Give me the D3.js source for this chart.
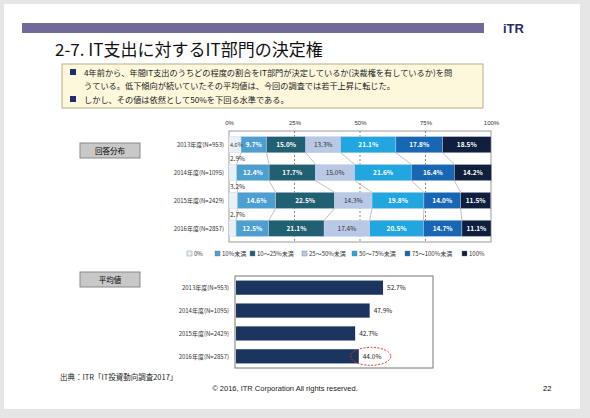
<!DOCTYPE html>
<html><head><meta charset="utf-8">
<script src="https://cdn.jsdelivr.net/npm/d3@7"></script>
<style>body{margin:0;background:#fff}svg{display:block;font-family:"Noto Sans CJK JP",Arial,sans-serif}</style>
</head><body><svg id="c" width="590" height="418"></svg>
<script>
const years = ["2013年度(N=953)", "2014年度(N=1095)", "2015年度(N=2429)", "2016年度(N=2857)"];
const bands = ["0%", "10%未満", "10～25%未満", "25～50%未満", "50～75%未満", "75～100%未満", "100%"];
const shares = [
  [4.6, 9.7, 15.0, 13.3, 21.1, 17.8, 18.5],
  [2.9, 12.4, 17.7, 15.0, 21.6, 16.4, 14.2],
  [3.2, 14.6, 22.5, 14.3, 19.8, 14.0, 11.5],
  [2.7, 12.5, 21.1, 17.4, 20.5, 14.7, 11.1]
];
const averages = [52.7, 47.9, 42.7, 44.0];
const colors = ["#e9f1f8", "#4c9fcf", "#215f72", "#b9c8e4", "#22a6df", "#1767b5", "#101f3e"];
const textCol = ["#333", "#fff", "#fff", "#333", "#fff", "#fff", "#fff"];
const pctTicks = [0, 25, 50, 75, 100];

const svg = d3.select("#c");
// slide frame
svg.append("rect").attr("width", 590).attr("height", 418).attr("fill", "#e6e6e6");
svg.append("rect").attr("x", 4).attr("y", 4).attr("width", 576).attr("height", 405).attr("fill", "#fff");
svg.append("rect").attr("x", 22).attr("y", 23).attr("width", 462).attr("height", 10).attr("fill", "#6f6a9a");
svg.append("text").attr("x", 503).attr("y", 33).attr("font-size", 13).attr("font-weight", "bold")
  .attr("fill", "#2a2a6a").attr("font-family", "Arial").text("iTR");
svg.append("text").attr("x", 55).attr("y", 56).attr("font-size", 17).attr("fill", "#111").text("2-7. IT支出に対するIT部門の決定権");
svg.append("rect").attr("x", 62).attr("y", 64).attr("width", 421).attr("height", 44)
  .attr("fill", "#fdf8dc").attr("stroke", "#b5ad8a");
const bul = ["4年前から、年間IT支出のうちどの程度の割合をIT部門が決定しているか(決裁権を有しているか)を問",
  "うている。低下傾向が続いていたその平均値は、今回の調査では若干上昇に転じた。",
  "しかし、その値は依然として50%を下回る水準である。"];
bul.forEach((t, i) => {
  const y = [76, 89, 103][i];
  if (i !== 1) svg.append("rect").attr("x", 70).attr("y", y - 7).attr("width", 6).attr("height", 6).attr("fill", "#1e2f6e");
  svg.append("text").attr("x", 84).attr("y", y).attr("font-size", 8.2).attr("fill", "#222").text(t);
});
function button(x, y, t) {
  svg.append("rect").attr("x", x).attr("y", y).attr("width", 60).attr("height", 15)
    .attr("fill", "#c8c8c8").attr("stroke", "#888");
  svg.append("text").attr("x", x + 30).attr("y", y + 11).attr("text-anchor", "middle").attr("font-size", 7.5).text(t);
}
button(80, 143, "回答分布");
button(80, 272, "平均値");

// stacked chart
const x = d3.scaleLinear().domain([0, 100]).range([229, 491]);
const y = d3.scaleBand().domain(years).range([131, 242]).paddingInner(0.42).paddingOuter(0.2);
const g = svg.append("g");
g.append("rect").attr("x", x(0)).attr("y", 131).attr("width", x(100) - x(0)).attr("height", 111)
  .attr("fill", "none").attr("stroke", "#999");
g.selectAll(".grid").data(pctTicks.slice(1, 4)).join("line").attr("x1", d => x(d)).attr("x2", d => x(d))
  .attr("y1", 131).attr("y2", 242).attr("stroke", "#888").attr("stroke-dasharray", "2,2");
g.append("g").attr("transform", "translate(0,131)")
  .call(d3.axisTop(x).tickValues(pctTicks).tickFormat(d => d + "%").tickSize(0).tickPadding(6))
  .call(a => a.select(".domain").remove())
  .selectAll("text").attr("font-size", 6).attr("fill", "#333");
const stacks = shares.map(r => { let c = 0; return r.map(v => { const s = c; c += v; return [s, c]; }); });
// connector lines
for (let i = 0; i < 3; i++) {
  for (let k = 0; k < 6; k++) {
    g.append("line").attr("x1", x(stacks[i][k][1])).attr("y1", y(years[i]) + y.bandwidth())
      .attr("x2", x(stacks[i + 1][k][1])).attr("y2", y(years[i + 1])).attr("stroke", "#999").attr("stroke-width", 0.6);
  }
}
years.forEach((yr, i) => {
  const row = g.append("g");
  row.selectAll("rect").data(stacks[i]).join("rect")
    .attr("x", d => x(d[0])).attr("width", d => x(d[1]) - x(d[0]))
    .attr("y", y(yr)).attr("height", y.bandwidth()).attr("fill", (d, k) => colors[k]).attr("stroke", "#c8d2de").attr("stroke-width", 0.4);
  row.selectAll("text").data(stacks[i]).join("text")
    .attr("x", (d, k) => k === 0 ? x(0) + 1 : x((d[0] + d[1]) / 2))
    .attr("y", (d, k) => (k === 0 && i > 0) ? y(yr) - 3 : y(yr) + y.bandwidth() / 2 + 2.5)
    .attr("text-anchor", (d, k) => k === 0 ? "start" : "middle")
    .attr("font-size", (d, k) => k === 0 && i === 0 ? 5.5 : 6.5).attr("font-weight", (d, k) => textCol[k] === "#fff" ? "bold" : "normal")
    .attr("fill", (d, k) => textCol[k])
    .text((d, k) => shares[i][k].toFixed(1) + "%");
  g.append("text").attr("x", 224).attr("y", y(yr) + y.bandwidth() / 2 + 2.5).attr("text-anchor", "end")
    .attr("font-size", 6).attr("fill", "#333").text(yr);
});
// legend
const lg = svg.append("g").selectAll("g").data(bands).join("g")
  .attr("transform", (d, i) => `translate(${[187, 215, 250, 302, 352, 405, 462][i]},256)`);
lg.append("rect").attr("y", -5).attr("width", 5).attr("height", 5).attr("fill", (d, i) => colors[i]).attr("stroke", "#777").attr("stroke-width", 0.4);
lg.append("text").attr("x", 7).attr("font-size", 6).attr("fill", "#333").text(d => d);

// average chart
const x2 = d3.scaleLinear().domain([0, 70.6]).range([236, 433]);
const y2 = d3.scaleBand().domain(years).range([276, 368]).paddingInner(0.38).paddingOuter(0.2);
svg.append("rect").attr("x", 235).attr("y", 276).attr("width", 198).attr("height", 92).attr("fill", "none").attr("stroke", "#777");
svg.selectAll(".avg").data(averages).join("rect")
  .attr("x", x2(0)).attr("y", (d, i) => y2(years[i])).attr("width", d => x2(d) - x2(0))
  .attr("height", y2.bandwidth()).attr("fill", "#1b355f");
svg.selectAll(".avgl").data(averages).join("text")
  .attr("x", d => x2(d) + 4).attr("y", (d, i) => y2(years[i]) + y2.bandwidth() / 2 + 2.5)
  .attr("font-size", 6.5).attr("fill", "#222").text(d => d.toFixed(1) + "%");
svg.selectAll(".avgy").data(years).join("text")
  .attr("x", 229).attr("y", d => y2(d) + y2.bandwidth() / 2 + 2.5).attr("text-anchor", "end")
  .attr("font-size", 6).attr("fill", "#333").text(d => d);
svg.append("ellipse").attr("cx", x2(averages[3]) + 12).attr("cy", y2(years[3]) + y2.bandwidth() / 2)
  .attr("rx", 20).attr("ry", 9).attr("fill", "none").attr("stroke", "#e03030").attr("stroke-dasharray", "2,1.5");

svg.append("text").attr("x", 60).attr("y", 380).attr("font-size", 7.5).attr("fill", "#222").text("出典：ITR「IT投資動向調査2017」");
svg.append("text").attr("x", 285).attr("y", 391).attr("text-anchor", "middle").attr("font-size", 7.5)
  .attr("font-family", "Arial").attr("fill", "#222").text("© 2016, ITR Corporation  All rights reserved.");
svg.append("text").attr("x", 543).attr("y", 391).attr("font-size", 7.5).attr("font-family", "Arial").text("22");
</script></body></html>
